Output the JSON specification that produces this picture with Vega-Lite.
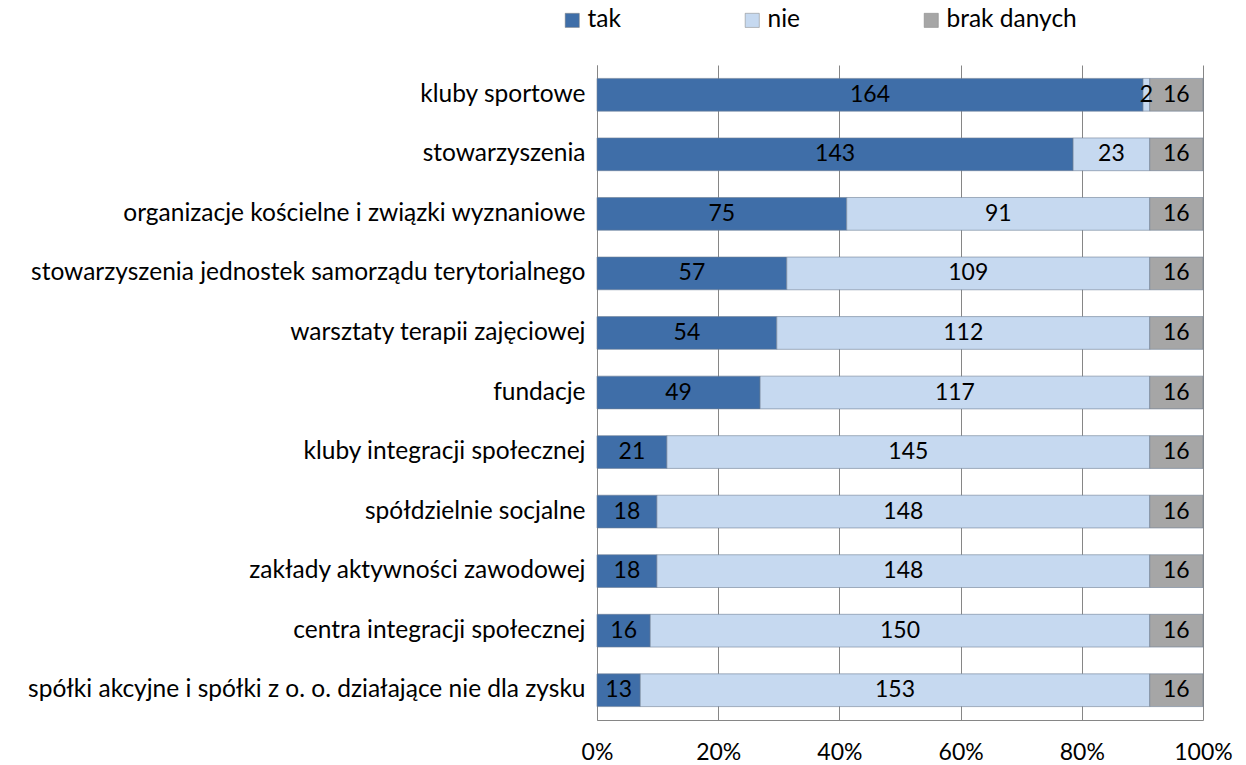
{
  "$schema": "https://vega.github.io/schema/vega-lite/v6.json",
  "autosize": "none",
  "width": 606,
  "height": 655,
  "padding": {"left": 597, "top": 65, "right": 43, "bottom": 45},
  "background": "white",
  "config": {
    "font": "Lato",
    "view": {"stroke": null}
  },
  "data": {
    "values": [
      {"kategoria": "kluby sportowe", "odp": "tak", "n": 164, "o": 1},
      {"kategoria": "kluby sportowe", "odp": "nie", "n": 2, "o": 2},
      {"kategoria": "kluby sportowe", "odp": "brak danych", "n": 16, "o": 3},
      {"kategoria": "stowarzyszenia", "odp": "tak", "n": 143, "o": 1},
      {"kategoria": "stowarzyszenia", "odp": "nie", "n": 23, "o": 2},
      {"kategoria": "stowarzyszenia", "odp": "brak danych", "n": 16, "o": 3},
      {"kategoria": "organizacje kościelne i związki wyznaniowe", "odp": "tak", "n": 75, "o": 1},
      {"kategoria": "organizacje kościelne i związki wyznaniowe", "odp": "nie", "n": 91, "o": 2},
      {"kategoria": "organizacje kościelne i związki wyznaniowe", "odp": "brak danych", "n": 16, "o": 3},
      {"kategoria": "stowarzyszenia jednostek samorządu terytorialnego", "odp": "tak", "n": 57, "o": 1},
      {"kategoria": "stowarzyszenia jednostek samorządu terytorialnego", "odp": "nie", "n": 109, "o": 2},
      {"kategoria": "stowarzyszenia jednostek samorządu terytorialnego", "odp": "brak danych", "n": 16, "o": 3},
      {"kategoria": "warsztaty terapii zajęciowej", "odp": "tak", "n": 54, "o": 1},
      {"kategoria": "warsztaty terapii zajęciowej", "odp": "nie", "n": 112, "o": 2},
      {"kategoria": "warsztaty terapii zajęciowej", "odp": "brak danych", "n": 16, "o": 3},
      {"kategoria": "fundacje", "odp": "tak", "n": 49, "o": 1},
      {"kategoria": "fundacje", "odp": "nie", "n": 117, "o": 2},
      {"kategoria": "fundacje", "odp": "brak danych", "n": 16, "o": 3},
      {"kategoria": "kluby integracji społecznej", "odp": "tak", "n": 21, "o": 1},
      {"kategoria": "kluby integracji społecznej", "odp": "nie", "n": 145, "o": 2},
      {"kategoria": "kluby integracji społecznej", "odp": "brak danych", "n": 16, "o": 3},
      {"kategoria": "spółdzielnie socjalne", "odp": "tak", "n": 18, "o": 1},
      {"kategoria": "spółdzielnie socjalne", "odp": "nie", "n": 148, "o": 2},
      {"kategoria": "spółdzielnie socjalne", "odp": "brak danych", "n": 16, "o": 3},
      {"kategoria": "zakłady aktywności zawodowej", "odp": "tak", "n": 18, "o": 1},
      {"kategoria": "zakłady aktywności zawodowej", "odp": "nie", "n": 148, "o": 2},
      {"kategoria": "zakłady aktywności zawodowej", "odp": "brak danych", "n": 16, "o": 3},
      {"kategoria": "centra integracji społecznej", "odp": "tak", "n": 16, "o": 1},
      {"kategoria": "centra integracji społecznej", "odp": "nie", "n": 150, "o": 2},
      {"kategoria": "centra integracji społecznej", "odp": "brak danych", "n": 16, "o": 3},
      {"kategoria": "spółki akcyjne i spółki z o. o. działające nie dla zysku", "odp": "tak", "n": 13, "o": 1},
      {"kategoria": "spółki akcyjne i spółki z o. o. działające nie dla zysku", "odp": "nie", "n": 153, "o": 2},
      {"kategoria": "spółki akcyjne i spółki z o. o. działające nie dla zysku", "odp": "brak danych", "n": 16, "o": 3}
    ]
  },
  "encoding": {
    "y": {
      "field": "kategoria",
      "type": "nominal",
      "sort": null,
      "scale": {"paddingInner": 0.45, "paddingOuter": 0.225},
      "axis": {
        "title": null,
        "labelFontSize": 24.5,
        "labelColor": "#000000",
        "labelLimit": 700,
        "labelPadding": 12,
        "domainColor": "#868686",
        "domainWidth": 1,
        "ticks": false,
        "grid": false
      }
    },
    "x": {
      "aggregate": "sum",
      "field": "n",
      "type": "quantitative",
      "stack": "normalize",
      "scale": {"domain": [0, 1], "nice": false},
      "axis": {
        "title": null,
        "format": ".0%",
        "values": [0, 0.2, 0.4, 0.6, 0.8, 1],
        "labelFontSize": 23,
        "labelColor": "#000000",
        "labelPadding": 21,
        "labelFlush": false,
        "grid": true,
        "gridColor": "#868686",
        "gridWidth": 1,
        "domainColor": "#868686",
        "ticks": false
      }
    },
    "order": {"field": "o", "type": "quantitative"}
  },
  "layer": [
    {
      "mark": {"type": "bar", "stroke": "#6f7f96", "strokeWidth": 0.6},
      "encoding": {
        "color": {
          "field": "odp",
          "type": "nominal",
          "scale": {
            "domain": ["tak", "nie", "brak danych"],
            "range": ["#3f6ea8", "#c6d9f0", "#a6a6a6"]
          },
          "legend": {
            "title": null,
            "orient": "none",
            "legendX": -37,
            "legendY": -57,
            "direction": "horizontal",
            "symbolType": "square",
            "symbolSize": 200,
            "symbolStrokeColor": "#7f7f7f",
            "symbolStrokeWidth": 0.5,
            "labelFontSize": 24.5,
            "labelColor": "#000000",
            "labelOffset": 3,
            "columnPadding": 119,
            "labelLimit": 300
          }
        }
      }
    },
    {
      "mark": {"type": "text", "fontSize": 23, "color": "#000000", "baseline": "middle", "align": "center"},
      "encoding": {
        "x": {
          "aggregate": "sum",
          "field": "n",
          "type": "quantitative",
          "stack": "normalize",
          "bandPosition": 0.5
        },
        "text": {"field": "n", "type": "quantitative"}
      }
    }
  ]
}
